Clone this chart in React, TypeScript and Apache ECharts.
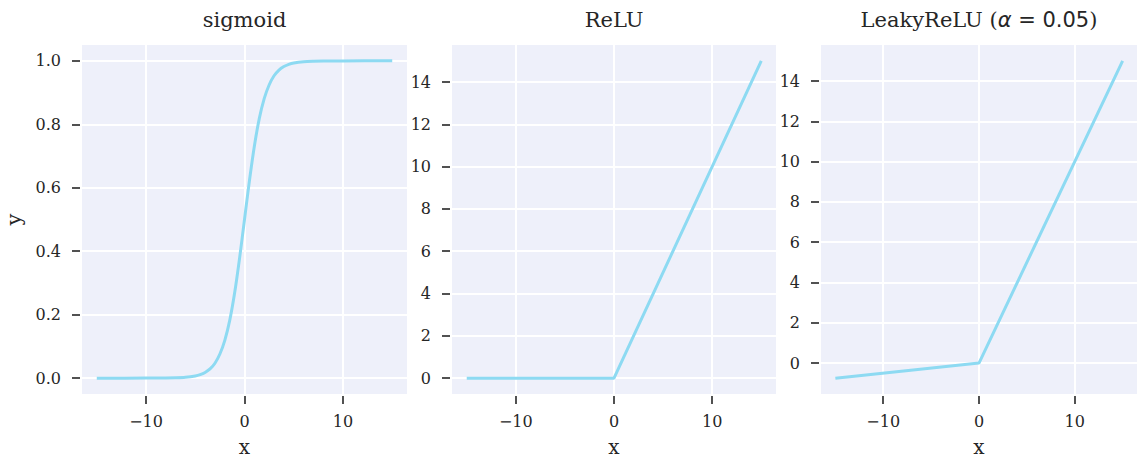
import React, { useEffect, useRef } from "react";
import * as echarts from "echarts";

const sigmoidX = [-15, -10, -8, -7, -6, -5, -4.5, -4, -3.5, -3, -2.5, -2, -1.5, -1, -0.5, 0, 0.5, 1, 1.5, 2, 2.5, 3, 3.5, 4, 4.5, 5, 6, 7, 8, 10, 15];
const sigmoidY = [0, 0.00005, 0.0003, 0.0009, 0.0025, 0.0067, 0.011, 0.018, 0.029, 0.047, 0.076, 0.119, 0.182, 0.269, 0.378, 0.5, 0.622, 0.731, 0.818, 0.881, 0.924, 0.953, 0.971, 0.982, 0.989, 0.9933, 0.9975, 0.9991, 0.9997, 0.99995, 1];
const reluX = [-15, 0, 15];
const reluY = [0, 0, 15];
const leakyX = [-15, 0, 15];
const leakyY = [-0.75, 0, 15];

const xTicks = [-10, 0, 10];
const sigmoidTicks = [0, 0.2, 0.4, 0.6, 0.8, 1.0];
const reluTicks = [0, 2, 4, 6, 8, 10, 12, 14];
const titles = ["sigmoid", "ReLU", "LeakyReLU"];

const BG = "#EEF0FA";
const LINE = "#8DDAF2";
const TXT = "#262626";
const SERIF = "DejaVu Serif";

const grids = [
  { left: 82, width: 325, yMin: -0.05, yMax: 1.05, ticks: sigmoidTicks, dec: 1 },
  { left: 452, width: 324, yMin: -0.75, yMax: 15.75, ticks: reluTicks, dec: 0 },
  { left: 821, width: 316, yMin: -1.5375, yMax: 15.7875, ticks: reluTicks, dec: 0 },
];

const fmtX = (v: number) => (v < 0 ? "\u2212" + Math.abs(v) : String(v));

export default function App() {
  const ref = useRef<HTMLDivElement>(null);
  useEffect(() => {
    if (!ref.current) return;
    const chart = echarts.init(ref.current, undefined, { renderer: "svg" });
    const datasets = [
      sigmoidX.map((x, i) => [x, sigmoidY[i]]),
      reluX.map((x, i) => [x, reluY[i]]),
      leakyX.map((x, i) => [x, leakyY[i]]),
    ];
    const option: any = {
      animation: false,
      backgroundColor: "#ffffff",
      grid: grids.map((g) => ({
        left: g.left,
        width: g.width,
        top: 45,
        height: 349,
        show: true,
        backgroundColor: BG,
        borderWidth: 0,
        containLabel: false,
        outerBoundsMode: "none",
      })),
      xAxis: grids.map((g, i) => ({
        type: "value",
        gridIndex: i,
        min: -16.5,
        max: 16.5,
        interval: 10,
        offset: 2,
        name: "x",
        nameLocation: "middle",
        nameGap: 41,
        nameTextStyle: { fontFamily: SERIF, fontSize: 20, color: TXT, lineHeight: 20 },
        axisLine: { show: false, onZero: false },
        axisTick: { show: true, length: 8, lineStyle: { color: TXT, width: 1.6 }, customValues: xTicks },
        axisLabel: {
          margin: 17,
          fontFamily: SERIF,
          fontSize: 16,
          color: TXT,
          customValues: xTicks,
          formatter: (v: number) => fmtX(v),
        },
        splitLine: { show: true, lineStyle: { color: "#ffffff", width: 2 } },
      })),
      yAxis: grids.map((g, i) => ({
        type: "value",
        gridIndex: i,
        min: g.yMin,
        max: g.yMax,
        interval: g.dec ? 0.2 : 2,
        offset: 2,
        name: i === 0 ? "y" : "",
        nameLocation: "middle",
        nameGap: 56,
        nameTextStyle: { fontFamily: SERIF, fontSize: 21, color: TXT },
        axisLine: { show: false, onZero: false },
        axisTick: { show: true, length: 8, lineStyle: { color: TXT, width: 1.6 }, customValues: g.ticks },
        axisLabel: {
          margin: 19,
          fontFamily: SERIF,
          fontSize: 16,
          color: TXT,
          customValues: g.ticks,
          formatter: (v: number) => v.toFixed(g.dec),
        },
        splitLine: { show: true, lineStyle: { color: "#ffffff", width: 2 } },
      })),
      series: datasets.map((d, i) => ({
        type: "line",
        xAxisIndex: i,
        yAxisIndex: i,
        data: d,
        showSymbol: false,
        smooth: i === 0 ? 0.3 : false,
        lineStyle: { color: LINE, width: 3 },
        itemStyle: { color: LINE },
      })),
      graphic: grids.map((g, i) => ({
        type: "text",
        x: g.left + g.width / 2,
        y: 20,
        style: {
          text: i === 2 ? "LeakyReLU ({a|\u03B1}{s| = 0.05})" : titles[i],
          fontFamily: SERIF,
          fontSize: 21,
          fill: TXT,
          textAlign: "center",
          textVerticalAlign: "middle",
          rich: {
            a: { fontFamily: "DejaVu Sans", fontStyle: "italic", fontSize: 21, fill: TXT, color: TXT },
            s: { fontFamily: "DejaVu Sans", fontSize: 21, fill: TXT, color: TXT },
          },
        },
      })),
    };
    chart.setOption(option);
    return () => chart.dispose();
  }, []);
  return (
    <div
      ref={ref}
      style={{ position: "fixed", left: 0, top: 0, width: 1137, height: 459 }}
    />
  );
}
